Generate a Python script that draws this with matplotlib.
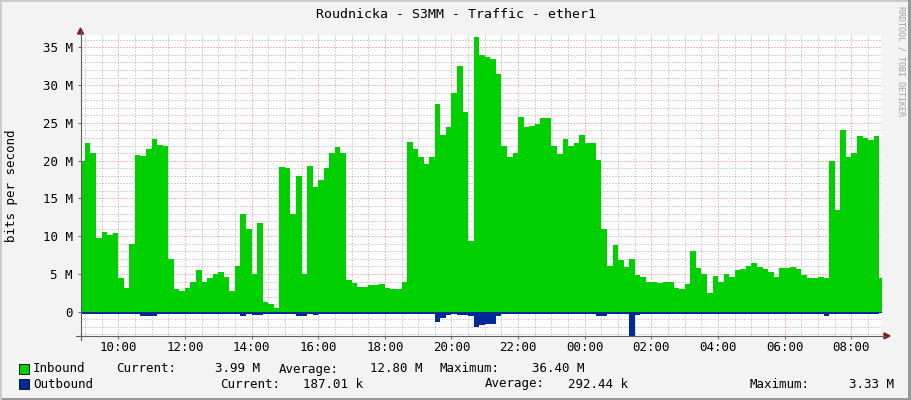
import numpy as np
import matplotlib.pyplot as plt
from matplotlib.lines import Line2D
from matplotlib.patches import Rectangle, Polygon

plt.rcParams['lines.scale_dashes'] = False
FONT = 'DejaVu Sans Mono'

title = "Roudnicka - S3MM - Traffic - ether1"
ylabel = "bits per second"
watermark = "RRDTOOL / TOBI OETIKER"

# samples every 10 minutes starting 08:50, values in Mbit/s
start_hour = 8 + 50 / 60
step_min = 10
inbound = [
    20.0, 22.4, 21.0, 9.8, 10.6, 10.2, 10.4, 4.4, 3.2, 9.0, 20.8, 20.6,
    21.5, 22.8, 22.1, 21.9, 7.0, 3.0, 2.8, 3.2, 4.0, 5.5, 4.0, 4.5,
    5.0, 5.3, 4.6, 2.8, 6.0, 13.0, 11.0, 5.0, 11.8, 1.3, 1.0, 0.5,
    19.1, 19.0, 13.0, 18.0, 5.0, 19.3, 16.5, 17.5, 19.0, 21.0, 21.8, 21.0,
    4.2, 3.8, 3.3, 3.3, 3.5, 3.5, 3.7, 3.2, 3.0, 3.0, 3.9, 22.5,
    21.6, 20.5, 19.6, 20.5, 27.5, 23.4, 24.5, 29.0, 32.5, 26.5, 9.4, 36.4,
    34.0, 33.7, 33.5, 31.5, 22.0, 20.5, 21.0, 25.8, 24.5, 24.6, 24.8, 25.7,
    25.7, 22.0, 20.9, 22.8, 22.0, 22.3, 23.4, 22.4, 22.3, 20.1, 11.0, 6.0,
    8.8, 6.8, 5.9, 7.0, 4.8, 4.6, 3.9, 3.9, 3.8, 3.9, 4.0, 3.2,
    3.0, 3.7, 8.0, 5.8, 5.0, 2.5, 4.7, 4.0, 5.0, 4.6, 5.5, 5.6,
    6.0, 6.4, 5.9, 5.7, 5.2, 4.6, 5.8, 5.8, 5.9, 5.6, 4.9, 4.5,
    4.5, 4.6, 4.4, 20.0, 13.5, 24.0, 20.5, 21.0, 23.2, 23.0, 22.7, 23.3,
    4.5,
]
outbound = [
    0.30, 0.25, 0.25, 0.25, 0.25, 0.25, 0.25, 0.25, 0.25, 0.35, 0.25, 0.50,
    0.50, 0.50, 0.25, 0.25, 0.25, 0.25, 0.25, 0.25, 0.25, 0.25, 0.25, 0.25,
    0.25, 0.25, 0.25, 0.25, 0.25, 0.50, 0.25, 0.40, 0.40, 0.25, 0.25, 0.25,
    0.35, 0.25, 0.25, 0.60, 0.60, 0.25, 0.40, 0.25, 0.25, 0.25, 0.25, 0.25,
    0.25, 0.25, 0.25, 0.25, 0.25, 0.25, 0.25, 0.25, 0.25, 0.25, 0.25, 0.25,
    0.25, 0.25, 0.25, 0.25, 1.40, 0.80, 0.40, 0.25, 0.45, 0.45, 0.60, 2.00,
    1.70, 1.60, 1.60, 0.50, 0.25, 0.25, 0.35, 0.25, 0.25, 0.25, 0.25, 0.25,
    0.25, 0.35, 0.35, 0.35, 0.25, 0.25, 0.25, 0.30, 0.25, 0.60, 0.60, 0.25,
    0.25, 0.25, 0.25, 3.33, 0.40, 0.25, 0.25, 0.25, 0.25, 0.25, 0.25, 0.25,
    0.25, 0.25, 0.25, 0.25, 0.25, 0.25, 0.25, 0.25, 0.25, 0.35, 0.35, 0.25,
    0.35, 0.25, 0.25, 0.25, 0.25, 0.35, 0.25, 0.25, 0.25, 0.25, 0.30, 0.25,
    0.30, 0.25, 0.60, 0.25, 0.35, 0.25, 0.25, 0.25, 0.25, 0.25, 0.35, 0.35,
    0.19,
]

tick_hours = list(range(10, 33, 2))
tick_labels = ["%02d:00" % (h % 24) for h in tick_hours]
ytick_vals = [0, 5, 10, 15, 20, 25, 30, 35]
ytick_labels = ["0"] + ["%d M" % v for v in ytick_vals[1:]]

legend_names = ["Inbound", "Outbound"]
in_stats = ["3.99 M", "12.80 M", "36.40 M"]
out_stats = ["187.01 k", "292.44 k", "3.33 M"]

c_in = '#00CF00'
c_out = '#002A97'
c_major = '#E47A7A'
c_minor = '#ABABAB'

W, H = 911, 400
fig = plt.figure(figsize=(W / 100, H / 100), dpi=100, facecolor='#F3F3F3')


def fx(x):
    return x / W


def fy(y):
    return 1 - y / H


ax = fig.add_axes([fx(80.5), fy(335.9), 800 / W, 301.4 / H])
ax.set_facecolor('white')

t = start_hour + np.arange(len(inbound) + 1) * step_min / 60
vin = np.append(inbound, inbound[-1])
vout = -np.append(outbound, outbound[-1])
ax.fill_between(t, 0, vin, step='post', color=c_in, linewidth=0, antialiased=False)
ax.fill_between(t, 0, vout, step='post', color=c_out, linewidth=0, antialiased=False)

x0 = 8.87
ax.set_xlim(x0, x0 + 24)
ax.set_ylim(-3.2, 36.7)

# grid: red every 2 h / 5 M, grey every 30 min / 1 M
dots = (0, (0.72, 1.44))
for h in np.arange(9, 33.01, 0.5):
    c = c_major if h % 2 == 0 else c_minor
    ax.axvline(h, color=c, lw=0.72, ls=dots, zorder=0)
for v in range(-3, 37):
    c = c_major if v % 5 == 0 else c_minor
    ax.axhline(v, color=c, lw=0.72, ls=dots, zorder=0)

ax.set_xticks(tick_hours)
ax.set_xticklabels(tick_labels, family=FONT, fontsize=9)
ax.set_yticks(ytick_vals)
ax.set_yticklabels(ytick_labels, family=FONT, fontsize=9)
ax.tick_params(axis='both', length=2.5, width=0.7, color='#606060', direction='out')
ax.tick_params(axis='y', pad=3)
ax.tick_params(axis='x', pad=1.5)
for s in ['top', 'right']:
    ax.spines[s].set_visible(False)
for s in ['left', 'bottom']:
    ax.spines[s].set_color('#606060')
    ax.spines[s].set_linewidth(0.8)

# axis extensions with arrows
fig.add_artist(Line2D([fx(80.5), fx(80.5)], [fy(335.9), fy(340)], color='#606060', lw=0.8))
fig.add_artist(Line2D([fx(76), fx(80.5)], [fy(335.9), fy(335.9)], color='#606060', lw=0.8))
fig.add_artist(Line2D([fx(80.5), fx(80.5)], [fy(34.5), fy(31)], color='#606060', lw=0.8))
fig.add_artist(Line2D([fx(880.5), fx(885)], [fy(335.9), fy(335.9)], color='#606060', lw=0.8))
fig.add_artist(Polygon([[fx(77.5), fy(34)], [fx(83.5), fy(34)], [fx(80.5), fy(28)]],
                       closed=True, color='#7F1E1E'))
fig.add_artist(Polygon([[fx(884), fy(332.9)], [fx(884), fy(338.9)], [fx(890), fy(335.9)]],
                       closed=True, color='#7F1E1E'))

# texts
fig.text(fx(455.5), fy(15), title, family=FONT, fontsize=9.5, ha='center', va='center')
fig.text(fx(12), fy(186), ylabel, family=FONT, fontsize=9, rotation=90,
         ha='center', va='center')
fig.text(fx(901), fy(6), watermark, family=FONT, fontsize=6, rotation=270,
         ha='center', va='top', color='#A0A0A0')

# legend
rows = [fy(369), fy(384)]
for y, c in zip(rows, [c_in, c_out]):
    fig.add_artist(Rectangle((fx(19), y - 5 / H), 10 / W, 10 / H,
                             facecolor=c, edgecolor='black', lw=0.6))
lk = dict(family=FONT, fontsize=9, va='center')
fig.text(fx(33), rows[0], legend_names[0], **lk)
fig.text(fx(116), rows[0], "Current:", **lk)
fig.text(fx(260), rows[0], in_stats[0], ha='right', **lk)
fig.text(fx(279), rows[0], "Average:", **lk)
fig.text(fx(423), rows[0], in_stats[1], ha='right', **lk)
fig.text(fx(440), rows[0], "Maximum:", **lk)
fig.text(fx(584), rows[0], in_stats[2], ha='right', **lk)
fig.text(fx(33), rows[1], legend_names[1], **lk)
fig.text(fx(220), rows[1], "Current:", **lk)
fig.text(fx(363), rows[1], out_stats[0], ha='right', **lk)
fig.text(fx(485), rows[1], "Average:", **lk)
fig.text(fx(628), rows[1], out_stats[1], ha='right', **lk)
fig.text(fx(750), rows[1], "Maximum:", **lk)
fig.text(fx(894), rows[1], out_stats[2], ha='right', **lk)

# frame shading
fig.add_artist(Rectangle((0, 0), 1, 2 / H, color='#999999', lw=0))
fig.add_artist(Rectangle((1 - 3 / W, 0), 3 / W, 1, color='#999999', lw=0))
fig.add_artist(Rectangle((0, 1 - 2 / H), 1 - 3 / W, 2 / H, color='#CBCBCB', lw=0))
fig.add_artist(Rectangle((0, 0), 2 / W, 1, color='#CBCBCB', lw=0))

fig.savefig("out.png", dpi=100, facecolor=fig.get_facecolor())
